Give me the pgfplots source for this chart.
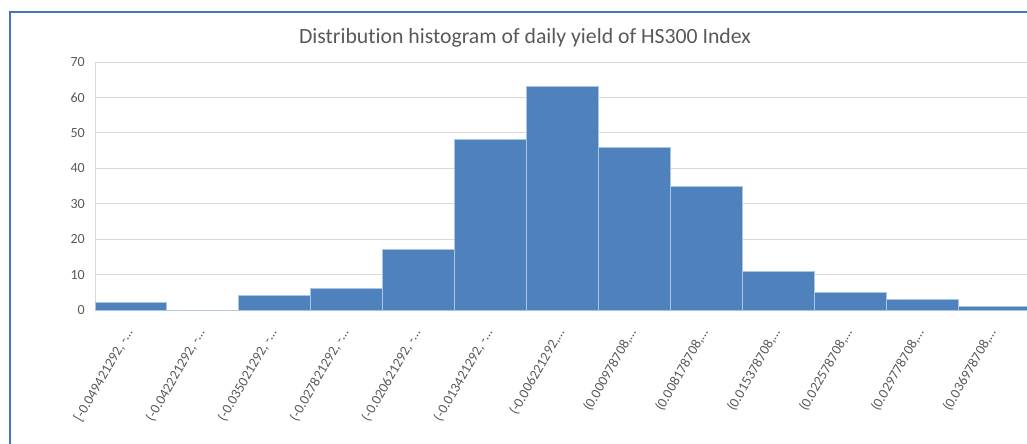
\documentclass[border=0pt]{standalone}
\usepackage{fontspec}
\setmainfont{Carlito}[Ligatures=NoCommon]
\usepackage{pgfplots}
\pgfplotsset{compat=1.18}

\definecolor{barblue}{RGB}{79,129,189}
\definecolor{baredge}{RGB}{170,196,228}
\definecolor{gridgray}{RGB}{217,217,217}
\definecolor{textgray}{RGB}{89,89,89}
\definecolor{framblue}{RGB}{68,114,196}

\begin{document}
\begin{tikzpicture}[x=0.75pt,y=0.75pt]
  % page area (1 unit = one pixel of the final image)
  \path[use as bounding box] (0,0) rectangle (1027,443);

  % chart frame (left and top edges)
  \draw[framblue, line width=1.5pt] (10,-10) -- (10,431) -- (1040,431);

  % title
  \node[font=\fontsize{16.3}{19}\selectfont, text=textgray] at (525,405)
    {Distribution histogram of daily yield of HS300 Index};

  \begin{axis}[
    at={(71.25pt,99.75pt)}, anchor=south west,
    scale only axis,
    width=701.25pt, height=186pt,
    xmin=0, xmax=13,
    ymin=0, ymax=70,
    ytick={0,10,...,70},
    xtick={0.5,1.5,...,12.5},
    xticklabels={
      {[-0.049421292, -…},
      {(-0.042221292, -…},
      {(-0.035021292, -…},
      {(-0.027821292, -…},
      {(-0.020621292, -…},
      {(-0.013421292, -…},
      {(-0.006221292,…},
      {(0.000978708,…},
      {(0.008178708,…},
      {(0.015378708,…},
      {(0.022578708,…},
      {(0.029778708,…},
      {(0.036978708,…}},
    axis lines*=left,
    axis line style={draw=gridgray, line width=0.75pt, -},
    ymajorgrids,
    grid style={draw=gridgray, line width=0.75pt},
    major tick length=0pt,
    tick style={draw=none},
    /pgf/number format/assume math mode=true,
    ticklabel style={font=\fontsize{10.5}{12}\selectfont, text=textgray},
    yticklabel style={anchor=east, inner sep=0pt, xshift=-7.5pt},
    xticklabel style={yshift=-15pt, xshift=-1pt, rotate=60, anchor=east, inner sep=0pt},
    clip=false,
  ]
    \addplot[ybar, bar width=1, fill=barblue, draw=baredge, line width=0.75pt]
      coordinates {
        (0.5,2) (1.5,0) (2.5,4) (3.5,6) (4.5,17) (5.5,48) (6.5,63)
        (7.5,46) (8.5,35) (9.5,11) (10.5,5) (11.5,3) (12.5,1)
      };
  \end{axis}
\end{tikzpicture}
\end{document}
